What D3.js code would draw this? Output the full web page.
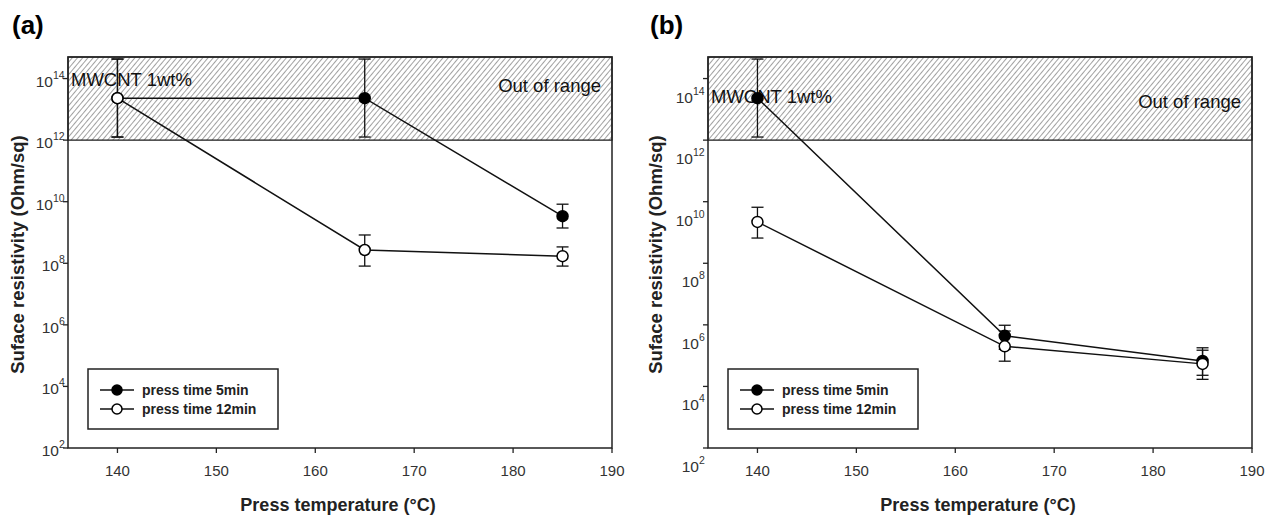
<!DOCTYPE html>
<html>
<head>
<meta charset="utf-8">
<script src="https://cdn.jsdelivr.net/npm/d3@7"></script>
<style>
  body { margin: 0; background: #fff; }
  text { font-family: "Liberation Sans", Arial, sans-serif; }
</style>
</head>
<body>
<svg id="chart" width="1276" height="520"></svg>
<script>
// data
const temps = [140, 165, 185];
const xTicks = [140, 150, 160, 170, 180, 190];
const yTickExp = [2, 4, 6, 8, 10, 12, 14];
const seriesNames = ["press time 5min", "press time 12min"];
const outOfRange = 1e12;

// panel (a)
const a5min = [2.3e13, 2.3e13, 3.4e9];
const a5minLo = [1.26e12, 1.26e12, 1.4e9];
const a5minHi = [4.3e14, 4.3e14, 8.3e9];
const a12min = [2.3e13, 2.7e8, 1.7e8];
const a12minLo = [1.26e12, 8.1e7, 8.1e7];
const a12minHi = [4.3e14, 8.3e8, 3.4e8];

// panel (b)
const b5min = [2.3e13, 4.4e5, 6.7e4];
const b5minLo = [1.26e12, 1.6e5, 2.3e4];
const b5minHi = [4.3e14, 9.7e5, 1.8e5];
const b12min = [2.2e9, 2.0e5, 5.4e4];
const b12minLo = [6.6e8, 6.6e4, 1.7e4];
const b12minHi = [6.6e9, 6.3e5, 1.5e5];

const svg = d3.select("#chart");

// hatch pattern for the out of range band
svg.append("defs").append("pattern")
    .attr("id", "hatch")
    .attr("patternUnits", "userSpaceOnUse")
    .attr("width", 4).attr("height", 4)
    .attr("patternTransform", "rotate(40)")
  .append("line")
    .attr("x1", 0).attr("y1", 0).attr("x2", 0).attr("y2", 4)
    .attr("stroke", "#444").attr("stroke-width", 1);

const plotTop = 57, plotBottom = 448;

function drawPanel(p) {
    const x = d3.scaleLinear().domain([135, 190]).range([p.left, p.right]);
    const y = d3.scaleLog().domain([1e2, Math.pow(10, 14.7)]).range([plotBottom, plotTop]);
    const g = svg.append("g");

    // panel tag
    g.append("text")
        .attr("x", p.tagX).attr("y", 34)
        .attr("font-size", 26).attr("font-weight", "bold")
        .text(p.tag);

    // hatched band
    g.append("rect")
        .attr("x", p.left).attr("y", plotTop)
        .attr("width", p.right - p.left).attr("height", y(outOfRange) - plotTop)
        .attr("fill", "url(#hatch)")
        .attr("stroke", "#222").attr("stroke-width", 1.3);

    // frame
    g.append("rect")
        .attr("x", p.left).attr("y", plotTop)
        .attr("width", p.right - p.left).attr("height", plotBottom - plotTop)
        .attr("fill", "none").attr("stroke", "#222").attr("stroke-width", 1.5);

    // x axis ticks
    xTicks.forEach(t => {
        g.append("line")
            .attr("x1", x(t)).attr("x2", x(t))
            .attr("y1", plotBottom).attr("y2", plotBottom + 5)
            .attr("stroke", "#222").attr("stroke-width", 1.3);
        g.append("text")
            .attr("x", x(t)).attr("y", plotBottom + 28)
            .attr("text-anchor", "middle")
            .attr("font-size", 15).attr("fill", "#333")
            .text(t);
    });

    // y axis ticks (labels in (b) sit lower than their ticks)
    yTickExp.forEach(e => {
        const yy = y(Math.pow(10, e));
        const lx = p.left - 3 - (e >= 10 ? 12 : 6);
        g.append("line")
            .attr("x1", p.left - 5).attr("x2", p.left)
            .attr("y1", yy).attr("y2", yy)
            .attr("stroke", "#222").attr("stroke-width", 1.3);
        g.append("text")
            .attr("x", lx).attr("y", yy + 8 + p.labelDy)
            .attr("text-anchor", "end")
            .attr("font-size", 15.5).attr("fill", "#333")
            .text("10");
        g.append("text")
            .attr("x", lx).attr("y", yy + p.labelDy)
            .attr("text-anchor", "start")
            .attr("font-size", 10.5).attr("fill", "#333")
            .text(e);
    });

    // axis titles
    g.append("text")
        .attr("x", (p.left + p.right) / 2 - 2).attr("y", 511)
        .attr("text-anchor", "middle")
        .attr("font-size", 18).attr("font-weight", "bold").attr("fill", "#222")
        .text("Press temperature (°C)");
    g.append("text")
        .attr("transform", `translate(${p.left - p.titleOff},${(plotTop + plotBottom) / 2 + 2}) rotate(-90)`)
        .attr("text-anchor", "middle")
        .attr("font-size", 18.5).attr("font-weight", "bold").attr("fill", "#222")
        .text("Suface resistivity (Ohm/sq)");

    // band annotations
    g.append("text")
        .attr("x", p.left + 3).attr("y", p.mwY)
        .attr("font-size", 18.5).attr("fill", "#111")
        .text("MWCNT 1wt%");
    g.append("text")
        .attr("x", p.right - 11).attr("y", p.oorY)
        .attr("text-anchor", "end")
        .attr("font-size", 18.5).attr("fill", "#111")
        .text("Out of range");

    const line = d3.line().x((d, i) => x(temps[i])).y(d => y(d));

    p.series.forEach(s => {
        g.append("path")
            .attr("d", line(s.val))
            .attr("fill", "none").attr("stroke", "#111").attr("stroke-width", 1.5);
    });

    p.series.forEach(s => {
        temps.forEach((t, i) => {
            const cx = x(t);
            const eg = g.append("g").attr("stroke", "#111").attr("stroke-width", 1.3);
            eg.append("line").attr("x1", cx).attr("x2", cx)
                .attr("y1", y(s.lo[i])).attr("y2", y(s.hi[i]));
            [s.lo[i], s.hi[i]].forEach(v => {
                eg.append("line").attr("x1", cx - 6).attr("x2", cx + 6)
                    .attr("y1", y(v)).attr("y2", y(v));
            });
        });
    });

    p.series.forEach((s, k) => {
        g.selectAll(null)
            .data(s.val)
            .join("circle")
            .attr("cx", (d, i) => x(temps[i]))
            .attr("cy", d => y(d))
            .attr("r", 5.5)
            .attr("fill", k === 0 ? "#000" : "#fff")
            .attr("stroke", "#000").attr("stroke-width", 1.5);
    });

    // legend
    const lg = g.append("g").attr("transform", `translate(${p.left + 20},369)`);
    lg.append("rect")
        .attr("width", 190).attr("height", 60)
        .attr("fill", "#fff").attr("stroke", "#222").attr("stroke-width", 1.5);
    seriesNames.forEach((name, k) => {
        const ly = 21 + k * 19;
        lg.append("line").attr("x1", 12).attr("x2", 46).attr("y1", ly).attr("y2", ly)
            .attr("stroke", "#111").attr("stroke-width", 1.5);
        lg.append("circle").attr("cx", 29).attr("cy", ly).attr("r", 5)
            .attr("fill", k === 0 ? "#000" : "#fff")
            .attr("stroke", "#000").attr("stroke-width", 1.5);
        lg.append("text").attr("x", 54).attr("y", ly + 5)
            .attr("font-size", 14).attr("font-weight", "bold").attr("fill", "#222")
            .text(name);
    });
}

drawPanel({
    tag: "(a)", tagX: 12, left: 68, right: 612, labelDy: 0, mwY: 86, oorY: 92, titleOff: 44,
    series: [
        { val: a5min, lo: a5minLo, hi: a5minHi },
        { val: a12min, lo: a12minLo, hi: a12minHi }
    ]
});

drawPanel({
    tag: "(b)", tagX: 650, left: 708, right: 1252, labelDy: 16, mwY: 103, oorY: 108, titleOff: 46,
    series: [
        { val: b5min, lo: b5minLo, hi: b5minHi },
        { val: b12min, lo: b12minLo, hi: b12minHi }
    ]
});
</script>
</body>
</html>
